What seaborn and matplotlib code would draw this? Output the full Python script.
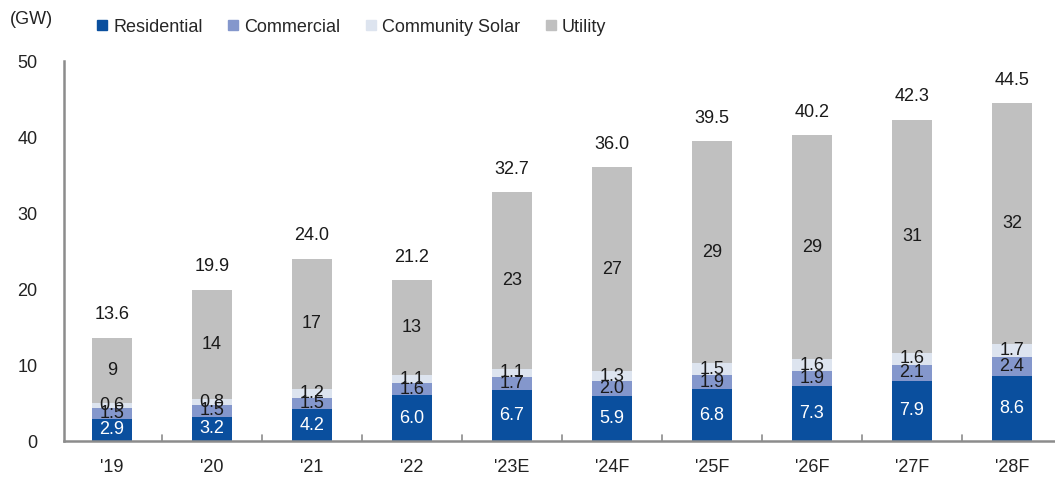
import matplotlib
matplotlib.use("Agg")
import matplotlib.pyplot as plt
from matplotlib.lines import Line2D
import numpy as np
import pandas as pd
import seaborn as sns

# US solar installations by segment (GW)
years = ["'19", "'20", "'21", "'22", "'23E", "'24F", "'25F", "'26F", "'27F", "'28F"]
residential = [2.9, 3.2, 4.2, 6.0, 6.7, 5.9, 6.8, 7.3, 7.9, 8.6]
commercial = [1.5, 1.5, 1.5, 1.6, 1.7, 2.0, 1.9, 1.9, 2.1, 2.4]
community = [0.6, 0.8, 1.2, 1.1, 1.1, 1.3, 1.5, 1.6, 1.6, 1.7]
utility = [8.6, 14.4, 17.1, 12.5, 23.2, 26.8, 29.3, 29.4, 30.7, 31.8]

segments = ["Residential", "Commercial", "Community Solar", "Utility"]
colors = ["#0a4f9e", "#8497cc", "#dde4ef", "#c0c0c0"]

sns.set_theme(style="white")
plt.rcParams["font.family"] = ["Liberation Sans", "DejaVu Sans"]

df = pd.DataFrame({"year": years, "Residential": residential, "Commercial": commercial,
                   "Community Solar": community, "Utility": utility})
cum = df[segments].cumsum(axis=1)
bottoms = cum.shift(1, axis=1).fillna(0)

fig = plt.figure(figsize=(10.55, 4.78), dpi=100)
ax = fig.add_axes([64 / 1055, 37 / 478, 1 - 64 / 1055, 380 / 478])

# stacked bars drawn as overlapping cumulative totals, tallest first
for seg, col in reversed(list(zip(segments, colors))):
    sns.barplot(x=df["year"], y=cum[seg], color=col, width=0.4, ax=ax,
                saturation=1, linewidth=0, order=years)

label_kw = dict(ha="center", va="center", fontsize=13)
for i in range(len(years)):
    for seg in segments:
        v = df.loc[i, seg]
        yc = bottoms.loc[i, seg] + v / 2
        if seg == "Residential":
            ax.text(i, yc, f"{v:.1f}", color="white", **label_kw)
        elif seg == "Utility":
            ax.text(i, yc, f"{int(v + 0.5)}", color="#1a1a1a", **label_kw)
        else:
            ax.text(i, yc, f"{v:.1f}", color="#1a1a1a", **label_kw)
    total = cum.loc[i, "Utility"]
    ax.text(i, total + 3.0, f"{total:.1f}", color="#1a1a1a", **label_kw)

ax.set_xlim(-0.48, 9.43)
ax.set_ylim(0, 50)
ax.set_yticks(np.arange(0, 51, 10))
ax.set_xlabel("")
ax.set_ylabel("")
for s in ["top", "right"]:
    ax.spines[s].set_visible(False)
for s in ["left", "bottom"]:
    ax.spines[s].set_color("#8c8c8c")
    ax.spines[s].set_linewidth(1.8)
ax.tick_params(axis="y", direction="in", length=5, width=1.2, color="#8c8c8c",
               labelsize=13, labelcolor="#222222", pad=19)
ax.set_xticks(np.arange(len(years)))
ax.set_xticklabels(years)
ax.tick_params(axis="x", length=0, labelsize=13, labelcolor="#222222", pad=13)
# separator ticks between categories
for xb in np.arange(0.5, len(years) - 0.5, 1):
    ax.plot([xb, xb], [0, 0.8], color="#8c8c8c", lw=1.2, clip_on=False)

handles = [Line2D([], [], marker="s", linestyle="", color=c, markersize=7) for c in colors]
fig.legend(handles, segments, loc="center left", bbox_to_anchor=(96 / 1055, 1 - 27 / 478),
           ncol=4, frameon=False, fontsize=13, handlelength=0.7, handletextpad=0.25,
           columnspacing=1.35, borderaxespad=0, borderpad=0)
fig.text(10 / 1055, 1 - 19 / 478, "(GW)", fontsize=13, color="#222222", va="center")

fig.savefig("out.png", dpi=100)
